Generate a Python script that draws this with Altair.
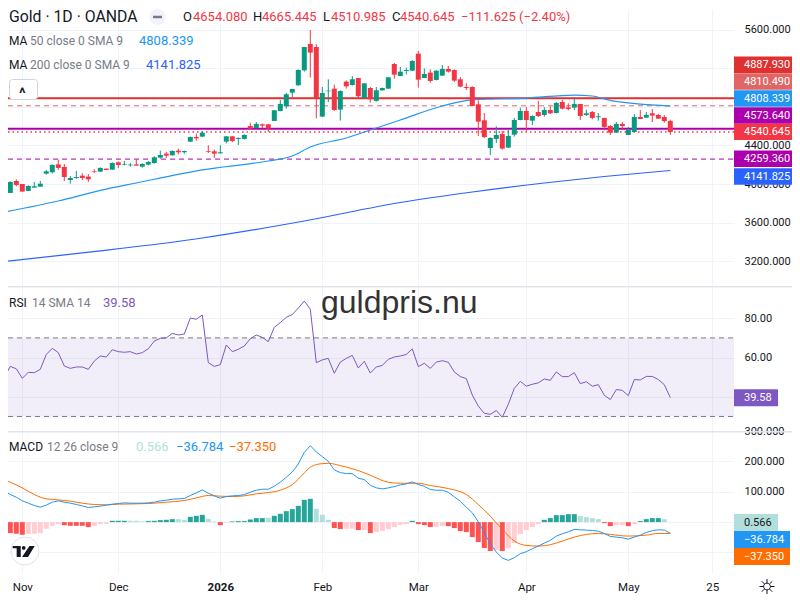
import altair as alt
import pandas as pd

# Candles, oldest first
opens = [3964, 3909, 4033, 4002, 3930, 3964, 3974, 4109, 4123, 4205, 4178, 4043, 4064, 4088, 4078, 4136,
         4130, 4161, 4150, 4226, 4202, 4195, 4205, 4181, 4202, 4219, 4274, 4316, 4299, 4347, 4330, 4440,
         4488, 4492, 4343, 4340, 4319, 4440, 4495, 4468, 4468, 4602, 4581, 4619, 4619, 4654, 4757, 4805,
         4947, 5023, 5178, 5450, 5419, 4699, 4961, 4988, 4771, 5061, 5026, 5098, 4892, 4995, 4861, 4971,
         4988, 5243, 5119, 5171, 5174, 5350, 5098, 5154, 5078, 5123, 5192, 5181, 5085, 5005, 5005, 4826,
         4661, 4374, 4468, 4519, 4378, 4512, 4664, 4757, 4657, 4747, 4716, 4767, 4736, 4850, 4795, 4792,
         4830, 4716, 4747, 4692, 4685, 4602, 4533, 4623, 4509, 4540, 4695, 4688, 4733, 4716, 4695, 4654.08]
highs = [4033, 4030, 4050, 4002, 3988, 4023, 4033, 4147, 4205, 4254, 4209, 4085, 4136, 4112, 4105, 4154,
         4174, 4161, 4226, 4236, 4240, 4219, 4257, 4216, 4240, 4288, 4347, 4336, 4350, 4368, 4347, 4492,
         4523, 4547, 4402, 4357, 4402, 4499, 4499, 4485, 4516, 4636, 4643, 4626, 4623, 4767, 4871, 4943,
         4985, 5188, 5419, 5595, 5447, 5005, 5085, 5030, 4971, 5074, 5119, 5098, 5043, 5005, 5005, 4999,
         5109, 5254, 5212, 5205, 5285, 5378, 5198, 5188, 5178, 5233, 5223, 5188, 5109, 5043, 5012, 4867,
         4736, 4485, 4599, 4550, 4561, 4685, 4792, 4798, 4712, 4861, 4798, 4805, 4850, 4871, 4836, 4892,
         4830, 4771, 4757, 4736, 4685, 4612, 4643, 4643, 4592, 4726, 4767, 4747, 4778, 4726, 4716, 4665.445]
lows = [3912, 3909, 3978, 3923, 3930, 3964, 3974, 4099, 4109, 4147, 4033, 4005, 4054, 4043, 4023, 4116,
        4126, 4147, 4150, 4168, 4195, 4181, 4192, 4171, 4195, 4212, 4264, 4271, 4295, 4309, 4316, 4436,
        4450, 4488, 4323, 4271, 4316, 4423, 4433, 4405, 4461, 4571, 4578, 4574, 4540, 4654, 4754, 4781,
        4902, 5019, 5164, 5102, 4681, 4695, 4850, 4757, 4657, 4988, 5019, 4892, 4892, 4843, 4854, 4967,
        4988, 5092, 5119, 5136, 5171, 4999, 5098, 5050, 5074, 5119, 5154, 5057, 5005, 4974, 4805, 4499,
        4478, 4302, 4426, 4357, 4374, 4492, 4661, 4550, 4612, 4695, 4699, 4726, 4733, 4774, 4764, 4767,
        4664, 4705, 4671, 4657, 4557, 4509, 4530, 4561, 4509, 4540, 4674, 4685, 4643, 4674, 4636, 4510.985]
closes = [3919, 4023, 3992, 3923, 3981, 3978, 4005, 4133, 4199, 4168, 4074, 4064, 4074, 4064, 4050, 4130,
          4168, 4147, 4219, 4199, 4209, 4202, 4192, 4209, 4230, 4278, 4302, 4295, 4343, 4330, 4343, 4488,
          4474, 4533, 4336, 4316, 4330, 4495, 4447, 4478, 4509, 4574, 4623, 4605, 4574, 4764, 4830, 4930,
          4985, 5181, 5419, 5361, 4892, 4943, 4967, 4767, 4964, 5012, 5085, 4909, 5043, 4878, 4971, 4995,
          5105, 5133, 5164, 5181, 5274, 5081, 5140, 5067, 5174, 5192, 5164, 5071, 5009, 4995, 4809, 4647,
          4488, 4478, 4509, 4368, 4499, 4664, 4757, 4664, 4705, 4705, 4767, 4733, 4840, 4781, 4778, 4830,
          4705, 4733, 4685, 4702, 4592, 4533, 4623, 4602, 4561, 4695, 4674, 4716, 4709, 4678, 4652, 4540.645]

# Moving averages, read at a few bars
ma50_bars = [0, 9, 16, 22, 33, 44, 48, 51, 57, 62, 66, 73, 78, 87, 95, 98, 101, 111]
ma50_vals = [3712, 3826, 3935, 4012, 4147, 4240, 4291, 4385, 4478, 4581, 4664, 4809, 4871, 4891, 4922, 4912, 4866, 4808.339]
ma200_bars = [0, 16, 33, 50, 66, 78, 90, 100, 111]
ma200_vals = [3200, 3309, 3443, 3619, 3810, 3919, 4012, 4079, 4141.825]

rsi_vals = [50.1, 55.5, 54.3, 49.4, 52.5, 52.3, 54.0, 61.6, 64.7, 62.5, 55.7, 54.5, 55.2, 55.2, 54.0, 58.2,
            60.8, 60.3, 64.0, 63.0, 62.7, 63.0, 61.8, 62.5, 64.5, 68.4, 69.8, 70.0, 72.3, 71.5, 72.0, 80.1,
            79.5, 81.7, 57.4, 55.5, 56.4, 66.4, 63.0, 64.2, 65.9, 69.6, 71.5, 70.3, 68.1, 75.4, 77.8, 80.5,
            81.9, 85.2, 88.8, 84.6, 57.4, 58.8, 59.6, 52.0, 57.7, 59.6, 61.1, 54.7, 58.1, 52.1, 55.2, 56.0,
            59.1, 60.3, 60.8, 61.6, 64.4, 55.4, 57.1, 54.5, 57.7, 58.4, 57.6, 52.7, 50.3, 49.3, 40.9, 35.3,
            31.6, 31.1, 33.0, 29.6, 36.2, 44.3, 47.9, 45.4, 46.4, 47.1, 49.1, 48.4, 52.7, 50.3, 50.3, 52.3,
            46.7, 47.7, 45.4, 46.2, 40.8, 38.6, 43.7, 43.3, 40.6, 48.8, 48.6, 50.4, 50.4, 48.8, 46.2, 39.58]

macd_vals = [101.9, 91, 82.2, 70.1, 62.5, 54.8, 49.3, 55.9, 65.7, 70.1, 65.7, 62.5, 58.1, 53.7, 48.2, 50.4,
             52.6, 55.9, 59.2, 61.4, 63.6, 62.5, 62.5, 62.5, 63.6, 65.7, 70.1, 72.3, 75.6, 76.7, 77.8, 87.7,
             96.4, 106.3, 95.4, 86.6, 78.9, 84.4, 86.6, 87.7, 91, 98.6, 105.2, 108.5, 108.5, 118.4, 131.5, 148,
             165.5, 191.8, 230.2, 252.1, 231.3, 216, 200.6, 172.1, 163.3, 160, 160, 144.7, 140.3, 121.7, 112.9, 109.6,
             112.9, 117.3, 122.8, 126.1, 132.6, 123.9, 118.4, 107.4, 105.2, 105.2, 98.6, 83.3, 69, 49.3, 30.6, 1,
             -35.1, -71.3, -98.7, -118.5, -126.1, -117.4, -104.2, -97.6, -87.8, -79, -69.1, -60.4, -46.1, -38.4, -31.8, -24.2,
             -25.3, -26.4, -27.5, -29.7, -37.3, -47.2, -49.4, -51.6, -56, -49.4, -42.8, -34, -28.5, -25.3, -26.4, -36.784]
signal_bars = [0, 1, 3, 5, 7, 9, 11, 13, 15, 17, 19, 22, 24, 27, 30, 32, 34, 36, 38, 40, 42, 44, 46, 48, 50, 51, 52, 53,
               54, 56, 59, 61, 64, 66, 69, 71, 74, 77, 79, 81, 83, 85, 87, 89, 91, 93, 95, 97, 99, 101, 104, 107, 109, 111]
signal_vals = [139, 131.5, 112.9, 91, 76.7, 73.4, 69, 62.4, 58.1, 57, 59.2, 60.3, 61.4, 65.7, 71.2, 80, 87.7, 85.5, 84.4,
               86.6, 93.2, 97.5, 105.2, 123.9, 162.2, 180.9, 189.6, 192.9, 194, 186.4, 169.9, 154.6, 131.5, 128.2, 128.2,
               120.6, 110.7, 91, 58.1, 19.7, -24.2, -62.5, -76.8, -79, -74.6, -62.5, -49.4, -40.6, -37.3, -40.6, -46.1,
               -42.8, -37.3, -37.35]
hist_vals = [-32.9, -36.2, -38.4, -41.7, -39.5, -38.4, -36.2, -21.9, -12.1, -6.6, -9.9, -12.1, -12.1, -12.1, -16.4, -13.2,
             -6.6, -5.5, 4.4, 4.4, 4.4, 4.4, 4.4, 2.2, 3.3, 4.4, 6.6, 7.7, 9.9, 9.9, 7.7, 17.5,
             20.8, 24.1, 11, 2.2, -9.9, -2.2, 2.2, 3.3, 3.3, 8.8, 13.2, 13.2, 14.3, 20.8, 27.4, 36.2,
             42.8, 53.7, 73.5, 76.8, 43.9, 24.1, 7.7, -19.7, -23, -21.9, -21.9, -26.3, -26.3, -36.2, -32.9, -29.6,
             -23, -16.4, -8.8, -6.6, 4.4, -6.6, -9.9, -16.4, -15.4, -13.2, -13.2, -19.7, -29.6, -32.9, -49.3, -65.8,
             -85.5, -95.4, -92.1, -95.4, -85.5, -69.1, -39.5, -26.3, -16.4, -6.6, 7.7, 13.2, 23, 23, 26.3, 26.3,
             19.7, 16.4, 13.2, 9.9, -3.3, -13.2, -9.9, -9.9, -13.2, -6.6, 3.3, 9.9, 13.2, 13.2, 9.9, 0.566]
# S = strong colour, L = pale colour
hist_shade = ("SSSSLLLLLLSSSSSLLLSSSLLLSSSSSLLSSSLLSLSSSSSSLSSSSSSSLLLSSLLSLS"
              "LLLLLLSSSSLLSSSSSSSSLSLLLLLLSSSSSSLLLLSSLLSLSSSSLL")

month_bars = [3, 19, 36, 53, 69, 87, 104, 118]
month_names = ["Nov", "Dec", "2026", "Feb", "Mar", "Apr", "May", "25"]

price_ticks = [3200, 3600, 4000, 4400, 4800, 5200, 5600]
rsi_ticks = [40, 60, 80]
macd_ticks = [-100, 0, 100, 200, 300]

# Price lines: level, colour, width, dash
level_prices = [4887.93, 4810.49, 4573.64, 4540.645, 4259.36]
level_colors = ["#e03131", "#e06666", "#ab00ab", "#f23645", "#ab00ab"]
level_widths = [2, 1, 2, 1.5, 1]
level_dashes = [[1, 0], [5, 4], [1, 0], [1.5, 3], [5, 4]]

# Price tags on the right scale; they sit stacked, so their places differ from the prices
tag_places = [5236, 5062, 4886, 4710, 4540.645, 4262, 4079]
tag_texts = ["4887.930", "4810.490", "4808.339", "4573.640", "4540.645", "4259.360", "4141.825"]
tag_colors = ["#e03131", "#e06666", "#2196f3", "#ab00ab", "#f23645", "#ab00ab", "#2962ff"]

macd_tag_places = [-1.6, -57.6, -113.5]
macd_tag_texts = ["0.566", "\u221236.784", "\u221237.350"]
macd_tag_colors = ["#b2dfdb", "#2196f3", "#ff6d00"]
macd_tag_ends = [770, 782, 782]

FONT = "Roboto"
TEXT = "#131722"
GRAY = "#787b86"
GRID = "#f0f3fa"
RED = "#f23645"
GREEN = "#089981"
# the page margin takes the first 8px, so the plot is 8px narrower and lower than the picture's
PLOT_W = 726

bars = list(range(len(opens)))
x_scale = alt.Scale(domain=[0.6167, 121.617], nice=False, zero=False, padding=0)
price_scale = alt.Scale(domain=[2946.5, 5812.1], nice=False, zero=False, padding=0)
rsi_scale = alt.Scale(domain=[22.6, 96.44], nice=False, zero=False, padding=0)
macd_scale = alt.Scale(domain=[-167.8, 300.5], nice=False, zero=False, padding=0)

one_row = pd.DataFrame({"a": [0]})


def x_axis(labels=False):
    return alt.Axis(values=month_bars, grid=True, gridColor=GRID, domain=False, ticks=False, title=None, labels=labels,
                    labelFont=FONT, labelFontSize=11.5, labelColor=TEXT, labelPadding=8,
                    labelExpr="{" + ",".join(f"'{b}':'{n}'" for b, n in zip(month_bars, month_names)) + "}[datum.value]",
                    labelFontWeight={"condition": {"test": "datum.value == 36", "value": "bold"}, "value": "normal"},
                    labelOverlap=False)


def y_axis(values, fmt, hidden):
    # labels that the price tags cover completely are left empty, the grid stays
    expr = " || ".join(f"datum.value == {h}" for h in hidden) + " ? '' : datum.label"
    return alt.Axis(values=values, orient="right", format=fmt, grid=True, gridColor=GRID, domain=False, ticks=False,
                    title=None, labelFont=FONT, labelFontSize=11, labelColor=TEXT, labelPadding=10, labelOverlap=False,
                    labelExpr=expr)


def label(txt, x, y, color=TEXT, size=12, weight="normal", font=FONT, baseline="middle"):
    return alt.Chart(pd.DataFrame({"t": [txt]})).mark_text(
        align="left", baseline=baseline, color=color, fontSize=size, fontWeight=weight, font=font
    ).encode(x=alt.value(x - 8), y=alt.value(y), text="t:N")


def tag(place, half, txt, bg, scale, end=788, fg="white"):
    frame = pd.DataFrame({"v": [place], "lo": [place - half], "hi": [place + half], "t": [txt]})
    strip = alt.Chart(frame).mark_rect(color=bg).encode(
        x=alt.value(PLOT_W), x2=alt.value(end), y=alt.Y("lo:Q", scale=scale, axis=None), y2="hi:Q")
    word = alt.Chart(frame).mark_text(align="left", baseline="middle", color=fg, font=FONT, fontSize=11).encode(
        x=alt.value(736), y=alt.Y("v:Q", scale=scale, axis=None), text="t:N")
    return [strip, word]


def separator():
    return alt.Chart(one_row).mark_rect(color="#e0e3eb").encode(
        x=alt.value(0), x2=alt.value(788), y=alt.value(0), y2=alt.value(1.5))


# ---- price pane ----
candles = pd.DataFrame({"k": bars, "o": opens, "h": highs, "l": lows, "c": closes})
candles["col"] = [GREEN if c >= o else RED for o, c in zip(opens, closes)]

main_layers = []
for price, color, w, dash in zip(level_prices, level_colors, level_widths, level_dashes):
    main_layers.append(alt.Chart(pd.DataFrame({"v": [price]})).mark_rule(color=color, strokeWidth=w, strokeDash=dash, clip=True).encode(
        x=alt.value(0), x2=alt.value(PLOT_W), y=alt.Y("v:Q", scale=price_scale, axis=None)))

main_layers.append(alt.Chart(pd.DataFrame({"k": ma200_bars, "v": ma200_vals})).mark_line(
    color="#2962ff", strokeWidth=1.2, interpolate="monotone", clip=True).encode(
    x=alt.X("k:Q", scale=x_scale, axis=None), y=alt.Y("v:Q", scale=price_scale, axis=None)))
main_layers.append(alt.Chart(pd.DataFrame({"k": ma50_bars, "v": ma50_vals})).mark_line(
    color="#2196f3", strokeWidth=1.2, interpolate="monotone", clip=True).encode(
    x=alt.X("k:Q", scale=x_scale, axis=None), y=alt.Y("v:Q", scale=price_scale, axis=None)))

wicks = alt.Chart(candles).mark_rule(strokeWidth=1, clip=True).encode(
    x=alt.X("k:Q", scale=x_scale, axis=x_axis()),
    y=alt.Y("l:Q", scale=price_scale, axis=y_axis(price_ticks, ".3f", [4800, 5200])),
    y2="h:Q",
    color=alt.Color("col:N", scale=None))
bodies = alt.Chart(candles).mark_bar(size=5, clip=True).encode(
    x=alt.X("k:Q", scale=x_scale, axis=None),
    y=alt.Y("o:Q", scale=price_scale, axis=None),
    y2="c:Q",
    color=alt.Color("col:N", scale=None))
main_layers += [wicks, bodies]

for place, txt, bg in zip(tag_places, tag_texts, tag_colors):
    main_layers += tag(place, 85, txt, bg, price_scale)

# legend rows
main_layers += [
    label("Gold \u00b7 1D \u00b7 OANDA", 9, 7.5, size=15.8),
    alt.Chart(one_row).mark_point(filled=True, opacity=1, color="#f0f3fa", size=260).encode(x=alt.value(149.5), y=alt.value(8)),
    alt.Chart(one_row).mark_rule(color=GRAY, strokeWidth=2.5).encode(x=alt.value(145), x2=alt.value(154), y=alt.value(8)),
    label("O", 183, 7.5, size=13), label("4654.080", 193, 7.5, RED, 13),
    label("H", 253, 7.5, size=13), label("4665.445", 262, 7.5, RED, 13),
    label("L", 323, 7.5, size=13), label("4510.985", 331, 7.5, RED, 13),
    label("C", 392, 7.5, size=13), label("4540.645", 400, 7.5, RED, 13),
    label("\u2212111.625", 461, 7.5, RED, 13), label("(\u22122.40%)", 519, 7.5, RED, 13),
    label("MA", 9, 32), label("50 close 0 SMA 9", 30, 32, GRAY), label("4808.339", 139, 32, "#2196f3", 13),
    label("MA", 9, 56), label("200 close 0 SMA 9", 30, 56, GRAY), label("4141.825", 146, 56, "#2962ff", 13),
    alt.Chart(one_row).mark_rect(fill="white", stroke="#d1d4dc", cornerRadius=3).encode(
        x=alt.value(1.5), x2=alt.value(29.5), y=alt.value(70.5), y2=alt.value(90.5)),
    label("^", 19, 84, size=15, weight="bold"),
]
main = alt.layer(*main_layers).resolve_axis(x="independent", y="independent").properties(width=PLOT_W, height=277)

# ---- RSI pane ----
rsi_df = pd.DataFrame({"k": bars, "v": rsi_vals})
rsi_layers = [
    separator(),
    alt.Chart(pd.DataFrame({"a": [30], "b": [70]})).mark_rect(fill="#7e57c2", opacity=0.1).encode(
        x=alt.value(0), x2=alt.value(PLOT_W),
        y=alt.Y("a:Q", scale=rsi_scale, axis=None), y2="b:Q"),
    alt.Chart(pd.DataFrame({"v": [30, 70]})).mark_rule(color=GRAY, strokeWidth=1, strokeDash=[5, 4], clip=True).encode(
        x=alt.value(0), x2=alt.value(PLOT_W), y=alt.Y("v:Q", scale=rsi_scale, axis=None)),
    alt.Chart(rsi_df).mark_line(color="#7e57c2", strokeWidth=1, clip=True).encode(
        x=alt.X("k:Q", scale=x_scale, axis=x_axis()),
        y=alt.Y("v:Q", scale=rsi_scale, axis=y_axis(rsi_ticks, ".2f", [40]))),
]
rsi_layers += tag(39.58, 4.33, "39.58", "#7e57c2", rsi_scale, end=770)
rsi_layers += [
    label("RSI", 9, 16.5), label("14 SMA 14", 32, 16.5, GRAY), label("39.58", 103, 16.5, "#7e57c2", 13),
    label("guldpris.nu", 321, 27, "#333333", 32, font="Liberation Sans", baseline="alphabetic"),
]
rsi = alt.layer(*rsi_layers).resolve_axis(x="independent", y="independent").properties(width=PLOT_W, height=145)

# ---- MACD pane ----
hist_df = pd.DataFrame({"k": bars, "v": hist_vals, "zero": [0] * len(bars)})
hist_df["col"] = [("#26a69a" if s == "S" else "#b2dfdb") if v >= 0 else ("#ff5252" if s == "S" else "#ffcdd2")
                  for v, s in zip(hist_vals, hist_shade)]

macd_layers = [
    separator(),
    alt.Chart(hist_df).mark_bar(size=5, clip=True).encode(
        x=alt.X("k:Q", scale=x_scale, axis=x_axis(labels=True)),
        y=alt.Y("v:Q", scale=macd_scale, axis=y_axis(macd_ticks, ".3f", [0, -100])),
        y2="zero:Q",
        color=alt.Color("col:N", scale=None)),
    alt.Chart(pd.DataFrame({"k": signal_bars, "v": signal_vals})).mark_line(
        color="#ff6d00", strokeWidth=1, interpolate="monotone", clip=True).encode(
        x=alt.X("k:Q", scale=x_scale, axis=None), y=alt.Y("v:Q", scale=macd_scale, axis=None)),
    alt.Chart(pd.DataFrame({"k": bars, "v": macd_vals})).mark_line(color="#2196f3", strokeWidth=1, clip=True).encode(
        x=alt.X("k:Q", scale=x_scale, axis=None), y=alt.Y("v:Q", scale=macd_scale, axis=None)),
]
for place, txt, bg, end in zip(macd_tag_places, macd_tag_texts, macd_tag_colors, macd_tag_ends):
    macd_layers += tag(place, 28, txt, bg, macd_scale, end=end, fg=TEXT if txt == "0.566" else "white")

macd_layers += [
    label("MACD", 9, 16), label("12 26 close 9", 47, 16, GRAY),
    label("0.566", 136, 16, "#b2dfdb", 13), label("\u221236.784", 176, 16, "#2196f3", 13),
    label("\u221237.350", 229, 16, "#ff6d00", 13),
    # TradingView logo and the settings sun
    alt.Chart(one_row).mark_point(filled=True, opacity=1, fill="white", stroke="#e0e3eb", strokeWidth=1, size=780).encode(
        x=alt.value(17), y=alt.value(120)),
    alt.Chart(one_row).mark_point(
        filled=True, opacity=1, color=TEXT, size=484,
        shape="M-1 -.5H-.27V.5H-.64V-.29H-1ZM-.17 -.32A.17 .17 0 1 0 .17 -.32A.17 .17 0 1 0 -.17 -.32ZM.52 -.5H1L.39 .5H-.15Z"
    ).encode(x=alt.value(15.7), y=alt.value(120.5)),
    alt.Chart(one_row).mark_point(
        filled=False, opacity=1, color=TEXT, strokeWidth=1, size=225,
        shape="M-.45 0A.45 .45 0 1 0 .45 0A.45 .45 0 1 0 -.45 0ZM0 -1V-.45M0 .45V1M-1 0H-.45M.45 0H1"
              "M-.7 -.7L-.32 -.32M.32 .32L.7 .7M-.7 .7L-.32 .32M.32 -.32L.7 -.7"
    ).encode(x=alt.value(759), y=alt.value(155.5)),
]
macd = alt.layer(*macd_layers).resolve_axis(x="independent", y="independent").properties(width=PLOT_W, height=142)

chart = alt.vconcat(main, rsi, macd, spacing=0, bounds="flush").resolve_scale(x="independent", y="independent").properties(
    padding={"left": 0, "top": 0, "bottom": 0, "right": -4}
).configure_view(stroke=None)

chart.save("out.html", embed_options={"renderer": "svg", "actions": False})
